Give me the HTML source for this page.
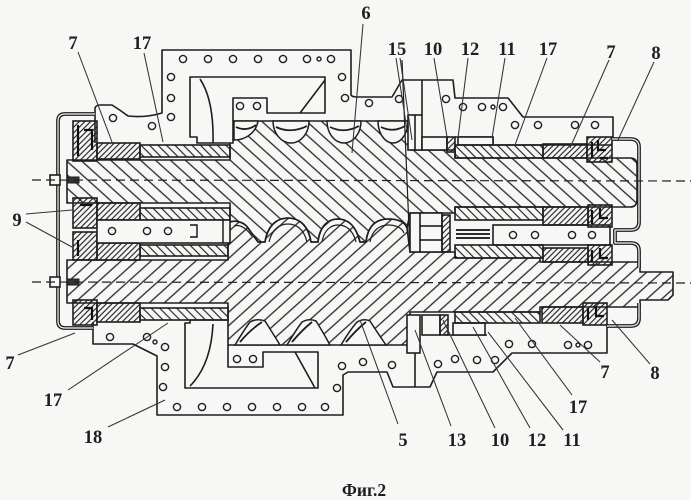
<!DOCTYPE html>
<html><head><meta charset="utf-8"><style>
html,body{margin:0;padding:0;background:#f7f7f5;}
svg{display:block;}
text{font-family:"Liberation Serif",serif;font-weight:bold;fill:#1e1e1e;}
</style></head><body>
<svg width="691" height="500" viewBox="0 0 691 500" xmlns="http://www.w3.org/2000/svg">
<defs>
<pattern id="hT" width="10" height="10" patternUnits="userSpaceOnUse" patternTransform="rotate(-48)"><line x1="5" y1="-1" x2="5" y2="11" stroke="#262626" stroke-width="1.3"/></pattern>
<pattern id="hB" width="10" height="10" patternUnits="userSpaceOnUse" patternTransform="rotate(48)"><line x1="5" y1="-1" x2="5" y2="11" stroke="#262626" stroke-width="1.3"/></pattern>
<pattern id="dF" width="4" height="4" patternUnits="userSpaceOnUse" patternTransform="rotate(45)"><line x1="2" y1="-1" x2="2" y2="5" stroke="#222" stroke-width="1.15"/></pattern>
<pattern id="dS" width="6" height="6" patternUnits="userSpaceOnUse" patternTransform="rotate(-45)"><line x1="3" y1="-1" x2="3" y2="7" stroke="#222" stroke-width="1.15"/></pattern>
</defs>
<rect width="691" height="500" fill="#f7f7f5"/>

<g stroke="#1e1e1e" stroke-width="1.6" stroke-linejoin="round">
<!-- top rotor -->
<path fill="url(#hT)" d="M67,160 L230,160 L230,143 L233,143 L233,121 L410,121 L410,150 L455,150 L455,158 L630,158 Q637,158 637,165 L637,200 Q637,207 630,207 L455,207 L455,213 L410,213 L407,228 C405,222 398,219 388,219 C378,219 368,224 366,242 L360,242 C356,226 348,219 338,219 C330,219 320,224 318,242 L311,242 C308,224 298,218 288,218 C278,218 268,224 265,242 L258,242 L248,228 C244,222 236,220 230,222 L230,203 L67,203 Z"/>
<!-- bottom rotor -->
<path fill="url(#hB)" d="M67,260 L228,260 L228,222 L230,222 C236,220 244,222 248,228 L258,242 L265,242 C268,224 278,218 288,218 C298,218 308,224 311,242 L318,242 C320,224 330,219 338,219 C348,219 356,226 360,242 L366,242 C368,224 378,219 388,219 C398,219 405,222 407,228 L410,252 L455,252 L455,258 L540,258 L540,262 L640,262 L640,272 L673,272 L673,295 L668,300 L640,300 L640,307 L540,307 L540,312 L410,312 L410,345 L228,345 L228,303 L67,303 Z"/>
</g>
<g fill="none" stroke="#1e1e1e" stroke-width="1.2">
<path d="M269,242 C272,229 280,224 288,224 C296,224 304,229 307,242"/>
<path d="M322,242 C324,230 331,225 338,225 C346,225 353,230 356,242"/>
<path d="M370,242 C372,230 380,225 388,225 C396,225 402,228 404,233"/>
<path d="M234,226 C240,224 246,228 252,236"/>
</g>

<!-- top lobe pockets -->
<g fill="#f7f7f5" stroke="#1e1e1e" stroke-width="1.5">
<path d="M234,121 L234,140 A24,22 0 0 0 258,121 Z"/>
<path d="M273,121 A18,22 0 0 0 309,121 Z"/>
<path d="M327,121 A17,22 0 0 0 361,121 Z"/>
<path d="M378,121 A15,22 0 0 0 408,121 Z"/>
<!-- bottom pockets -->
<path d="M235,345 Q244,330 250,322 Q257,318 265,321 Q272,332 280,345 Z"/>
<path d="M287,345 Q296,330 302,322 Q309,318 316,321 Q323,332 330,345 Z"/>
<path d="M341,345 Q350,330 357,322 Q364,318 370,321 Q377,332 386,345 Z"/>
</g>
<g fill="none" stroke="#1e1e1e" stroke-width="1.8">
<path d="M236,127 Q246,132 256,125"/><path d="M276,127 Q291,134 307,126"/><path d="M330,127 Q344,134 359,126"/><path d="M381,127 Q393,133 405,126"/>
<path d="M240,342 Q250,330 262,322"/><path d="M292,342 Q302,330 312,322"/><path d="M346,342 Q356,330 366,322"/>
</g>

<g fill="none" stroke="#1e1e1e" stroke-width="1.6" stroke-linejoin="round">
<!-- top housing -->
<path d="M95,143 L95,108 Q96,105 100,105 L112,105 Q120,110 128,116 Q145,118 162,113 L162,50 L351,50 L351,95 Q352,97 357,97 L392,97 L402,80 L453,80 L455,98 L508,98 L523,117 L613,117 L613,140"/>
<path d="M233,121 L233,98 L267,98 L267,113 L325,113 L325,77 L190,77 L190,137 L197,137 L197,143 L230,143"/>
<path d="M200,79 Q214,100 213,143"/>
<path d="M325,80 L300,113"/>
<path d="M422,80 L422,115"/>
<path d="M455,137 L493,137 L493,145 L612,145"/>
<!-- bottom housing -->
<path d="M93,322 L93,344 L133,344 L157,356 L157,415 L343,415 L343,375 L348,372 L387,372 L393,387 L430,387 L437,372 L493,372 L512,353 L607,353 L607,325"/>
<path d="M228,345 L228,367 L263,367 L263,352 L318,352 L318,388 L185,388 L185,323 L190,323 L190,320 L228,320"/>
<path d="M213,324 Q211,365 190,386"/>
<path d="M295,352 L315,388"/>
<path d="M415,353 L415,387"/>
<path d="M445,335 L487,335"/>
<path d="M402,60 L410,252" stroke-width="1.2"/>
</g>

<!-- bearings and sleeves -->
<g stroke="#1e1e1e" stroke-width="1.6">
<rect x="97" y="143" width="43" height="16" fill="url(#dF)"/>
<rect x="140" y="145" width="90" height="12" fill="url(#dS)"/>
<rect x="97" y="203" width="43" height="17" fill="url(#dF)"/>
<rect x="140" y="208" width="90" height="12" fill="url(#dS)"/>
<rect x="97" y="243" width="43" height="17" fill="url(#dF)"/>
<rect x="140" y="245" width="88" height="11" fill="url(#dS)"/>
<rect x="97" y="303" width="43" height="19" fill="url(#dF)"/>
<rect x="140" y="308" width="88" height="12" fill="url(#dS)"/>
<rect x="73" y="121" width="24" height="40" fill="url(#dF)"/>
<rect x="73" y="198" width="24" height="30" fill="url(#dF)"/>
<rect x="73" y="232" width="24" height="28" fill="url(#dF)"/>
<rect x="73" y="300" width="24" height="25" fill="url(#dF)"/>
<rect x="97" y="220" width="133" height="23" fill="#f7f7f5"/>
<rect x="493" y="225" width="117" height="20" fill="#f7f7f5"/>
<rect x="408" y="115" width="14" height="35" fill="#f7f7f5"/>
<rect x="422" y="137" width="25" height="13" fill="#f7f7f5"/>
<rect x="447" y="137" width="8" height="15" fill="url(#dF)"/>
<rect x="458" y="137" width="35" height="8" fill="#f7f7f5"/>
<rect x="455" y="145" width="88" height="13" fill="url(#dS)"/>
<rect x="543" y="144" width="44" height="14" fill="url(#dF)"/>
<rect x="587" y="137" width="25" height="25" fill="url(#dF)"/>
<rect x="455" y="207" width="88" height="13" fill="url(#dS)"/>
<rect x="543" y="207" width="45" height="18" fill="url(#dF)"/>
<rect x="588" y="205" width="24" height="22" fill="url(#dF)"/>
<rect x="410" y="213" width="32" height="39" fill="#f7f7f5"/>
<rect x="442" y="215" width="8" height="37" fill="url(#dF)"/>
<rect x="455" y="245" width="88" height="13" fill="url(#dS)"/>
<rect x="543" y="248" width="45" height="14" fill="url(#dF)"/>
<rect x="588" y="245" width="24" height="20" fill="url(#dF)"/>
<rect x="407" y="315" width="13" height="38" fill="#f7f7f5"/>
<rect x="422" y="315" width="18" height="20" fill="#f7f7f5"/>
<rect x="440" y="315" width="8" height="20" fill="url(#dF)"/>
<rect x="453" y="323" width="32" height="12" fill="#f7f7f5"/>
<rect x="455" y="312" width="85" height="11" fill="url(#dS)"/>
<rect x="542" y="307" width="41" height="16" fill="url(#dF)"/>
<rect x="583" y="303" width="24" height="22" fill="url(#dF)"/>
</g>
<!-- seal details -->
<g fill="none" stroke="#111" stroke-width="2.2">
<path d="M78,125 L78,156 M84,130 L92,130 L92,150 M80,205 L92,205 M78,240 L78,256 M84,308 L92,308 L92,320"/>
<path d="M592,142 L592,158 M598,140 L598,150 L606,150 M600,158 L608,158 M592,210 L592,224 M600,208 L600,218 L608,218 M592,250 L592,262 M600,248 L600,258 L608,258 M588,308 L588,320 M596,306 L596,316 L604,316"/>
<path d="M420,213 L420,252 M420,226 L442,226 M420,240 L442,240 M415,115 L415,150" stroke-width="1.5"/>
<path d="M456,230 L490,230 M456,234 L490,234 M456,238 L490,238" stroke-width="1.8"/>
<path d="M190,225 L197,225 L197,237 L190,237 M223,220 L223,243" stroke-width="1.4"/>
</g>

<!-- covers (double lines) -->
<g fill="none" stroke-linejoin="round">
<path d="M95,114 L65,114 Q58,114 58,121 L58,321 Q58,328 65,328 L93,328" stroke="#1e1e1e" stroke-width="3.8"/>
<path d="M95,114 L65,114 Q58,114 58,121 L58,321 Q58,328 65,328 L93,328" stroke="#f7f7f5" stroke-width="1.2"/>
<path d="M612,139 L630,139 Q639,139 639,147 L639,222 Q639,230 631,230 L615,230 L615,243 L631,243 Q639,243 639,251 L639,268 M639,303 L639,318 Q639,326 631,326 L607,326" stroke="#1e1e1e" stroke-width="3.8"/>
<path d="M612,139 L630,139 Q639,139 639,147 L639,222 Q639,230 631,230 L615,230 L615,243 L631,243 Q639,243 639,251 L639,268 M639,303 L639,318 Q639,326 631,326 L607,326" stroke="#f7f7f5" stroke-width="1.2"/>
</g>
<!-- nuts -->
<g fill="#333" stroke="#1e1e1e">
<rect x="50" y="175" width="10" height="10" fill="#f7f7f5" stroke-width="1.6"/>
<rect x="50" y="277" width="10" height="10" fill="#f7f7f5" stroke-width="1.6"/>
<rect x="67" y="177" width="12" height="6"/>
<rect x="67" y="279" width="12" height="6"/>
</g>

<!-- centerlines -->
<g stroke="#1e1e1e" stroke-width="1.2" stroke-dasharray="9,5" fill="none">
<line x1="32" y1="180" x2="691" y2="181"/>
<line x1="32" y1="282" x2="691" y2="283"/>
</g>

<!-- holes -->
<g fill="none" stroke="#1e1e1e" stroke-width="1.4">
<circle cx="183" cy="59" r="3.6"/><circle cx="208" cy="59" r="3.6"/><circle cx="233" cy="59" r="3.6"/><circle cx="258" cy="59" r="3.6"/><circle cx="283" cy="59" r="3.6"/><circle cx="307" cy="59" r="3.6"/><circle cx="319" cy="59" r="2"/><circle cx="331" cy="59" r="3.6"/>
<circle cx="171" cy="77" r="3.6"/><circle cx="171" cy="98" r="3.6"/><circle cx="171" cy="117" r="3.6"/><circle cx="113" cy="118" r="3.6"/><circle cx="152" cy="126" r="3.6"/>
<circle cx="342" cy="77" r="3.6"/><circle cx="345" cy="98" r="3.6"/><circle cx="240" cy="106" r="3.6"/><circle cx="257" cy="106" r="3.6"/>
<circle cx="369" cy="103" r="3.6"/><circle cx="399" cy="99" r="3.6"/><circle cx="446" cy="99" r="3.6"/><circle cx="463" cy="107" r="3.6"/><circle cx="482" cy="107" r="3.6"/><circle cx="493" cy="107" r="2"/><circle cx="503" cy="107" r="3.6"/>
<circle cx="515" cy="125" r="3.6"/><circle cx="538" cy="125" r="3.6"/><circle cx="575" cy="125" r="3.6"/><circle cx="595" cy="125" r="3.6"/>
<circle cx="112" cy="231" r="3.6"/><circle cx="147" cy="231" r="3.6"/><circle cx="168" cy="231" r="3.6"/>
<circle cx="513" cy="235" r="3.6"/><circle cx="535" cy="235" r="3.6"/><circle cx="572" cy="235" r="3.6"/><circle cx="592" cy="235" r="3.6"/>
<circle cx="110" cy="337" r="3.6"/><circle cx="147" cy="337" r="3.6"/><circle cx="155" cy="342" r="2"/><circle cx="165" cy="347" r="3.6"/><circle cx="165" cy="367" r="3.6"/><circle cx="163" cy="387" r="3.6"/>
<circle cx="177" cy="407" r="3.6"/><circle cx="202" cy="407" r="3.6"/><circle cx="227" cy="407" r="3.6"/><circle cx="252" cy="407" r="3.6"/><circle cx="277" cy="407" r="3.6"/><circle cx="302" cy="407" r="3.6"/><circle cx="325" cy="407" r="3.6"/>
<circle cx="342" cy="366" r="3.6"/><circle cx="337" cy="388" r="3.6"/><circle cx="237" cy="359" r="3.6"/><circle cx="253" cy="359" r="3.6"/>
<circle cx="363" cy="362" r="3.6"/><circle cx="392" cy="365" r="3.6"/><circle cx="438" cy="364" r="3.6"/><circle cx="455" cy="359" r="3.6"/><circle cx="477" cy="360" r="3.6"/><circle cx="495" cy="360" r="3.6"/>
<circle cx="509" cy="344" r="3.6"/><circle cx="532" cy="344" r="3.6"/><circle cx="568" cy="345" r="3.6"/><circle cx="578" cy="345" r="2"/><circle cx="588" cy="345" r="3.6"/>
</g>

<!-- leader lines -->
<g stroke="#333" stroke-width="1.05" fill="none">
<line x1="78" y1="52" x2="112" y2="142"/>
<line x1="144" y1="53" x2="163" y2="142"/>
<line x1="363" y1="24" x2="352" y2="153"/>
<line x1="396" y1="58" x2="407" y2="130"/>
<line x1="400" y1="58" x2="412" y2="140"/>
<line x1="434" y1="58" x2="447" y2="137"/>
<line x1="468" y1="58" x2="458" y2="138"/>
<line x1="505" y1="58" x2="492" y2="138"/>
<line x1="547" y1="58" x2="515" y2="145"/>
<line x1="609" y1="60" x2="570" y2="148"/>
<line x1="654" y1="62" x2="618" y2="140"/>
<line x1="26" y1="214" x2="72" y2="210"/>
<line x1="26" y1="222" x2="72" y2="247"/>
<line x1="18" y1="355" x2="75" y2="333"/>
<line x1="68" y1="390" x2="168" y2="323"/>
<line x1="108" y1="427" x2="165" y2="400"/>
<line x1="398" y1="424" x2="360" y2="320"/>
<line x1="451" y1="426" x2="415" y2="330"/>
<line x1="495" y1="428" x2="443" y2="320"/>
<line x1="530" y1="428" x2="473" y2="327"/>
<line x1="563" y1="430" x2="488" y2="332"/>
<line x1="572" y1="395" x2="515" y2="318"/>
<line x1="600" y1="362" x2="560" y2="325"/>
<line x1="650" y1="364" x2="612" y2="320"/>
</g>

<!-- labels -->
<g font-size="18.5" text-anchor="middle">
<text x="73" y="49">7</text>
<text x="142" y="49">17</text>
<text x="366" y="19">6</text>
<text x="397" y="55">15</text>
<text x="433" y="55">10</text>
<text x="470" y="55">12</text>
<text x="507" y="55">11</text>
<text x="548" y="55">17</text>
<text x="611" y="58">7</text>
<text x="656" y="59">8</text>
<text x="17" y="226">9</text>
<text x="10" y="369">7</text>
<text x="53" y="406">17</text>
<text x="93" y="443">18</text>
<text x="403" y="446">5</text>
<text x="457" y="446">13</text>
<text x="500" y="446">10</text>
<text x="537" y="446">12</text>
<text x="572" y="446">11</text>
<text x="578" y="413">17</text>
<text x="605" y="378">7</text>
<text x="655" y="379">8</text>
<text x="364" y="496" font-size="17.5">Фиг.2</text>
</g>
</svg>
</body></html>
